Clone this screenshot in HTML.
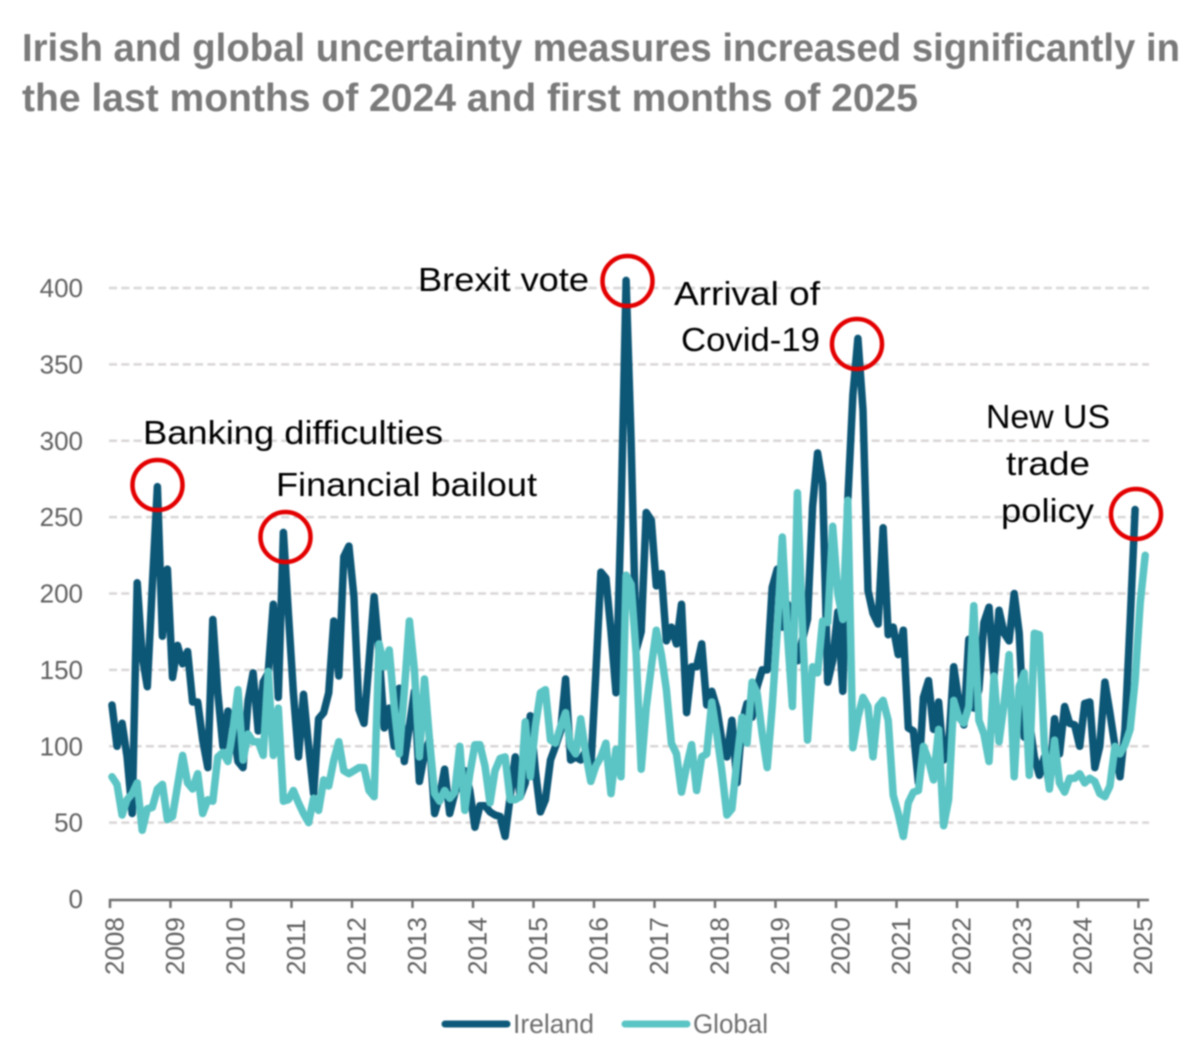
<!DOCTYPE html>
<html lang="en">
<head>
<meta charset="utf-8">
<title>Irish and global uncertainty measures</title>
<style>
html,body{margin:0;padding:0;background:#fff;}
#chart{display:block;width:1200px;height:1064px;filter:blur(0.7px);font-family:"Liberation Sans",sans-serif;}
.title{font-size:39px;font-weight:bold;fill:#7a7a7a;}
.note{font-size:33px;fill:#000;}
.tick{font-size:26px;fill:#606060;}
.legend{font-size:27px;fill:#6e6e6e;}
</style>
</head>
<body>
<svg id="chart" xmlns="http://www.w3.org/2000/svg" width="1200" height="1064" viewBox="0 0 1200 1064">
  <text class="title" x="22" y="61" textLength="1158" lengthAdjust="spacingAndGlyphs">Irish and global uncertainty measures increased significantly in</text>
  <text class="title" x="22" y="111" textLength="896" lengthAdjust="spacingAndGlyphs">the last months of 2024 and first months of 2025</text>
  <g id="grid"></g>
  <g id="axes"></g>
  <g id="series"></g>
  <g>
    <text class="note" x="143" y="444" textLength="300" lengthAdjust="spacingAndGlyphs">Banking difficulties</text>
    <text class="note" x="276" y="496" textLength="261" lengthAdjust="spacingAndGlyphs">Financial bailout</text>
    <text class="note" x="418" y="291" textLength="171" lengthAdjust="spacingAndGlyphs">Brexit vote</text>
    <text class="note" x="674" y="305" textLength="146" lengthAdjust="spacingAndGlyphs">Arrival of</text>
    <text class="note" x="681" y="351" textLength="139" lengthAdjust="spacingAndGlyphs">Covid-19</text>
    <text class="note" x="986" y="428" textLength="124" lengthAdjust="spacingAndGlyphs">New US</text>
    <text class="note" x="1006" y="475" textLength="84" lengthAdjust="spacingAndGlyphs">trade</text>
    <text class="note" x="1001" y="522" textLength="93" lengthAdjust="spacingAndGlyphs">policy</text>
    <circle cx="157.5" cy="485" r="25" fill="none" stroke="#e30000" stroke-width="4.5"/>
    <circle cx="285.5" cy="537" r="25" fill="none" stroke="#e30000" stroke-width="4.5"/>
    <circle cx="627.5" cy="281" r="25" fill="none" stroke="#e30000" stroke-width="4.5"/>
    <circle cx="857" cy="344" r="25" fill="none" stroke="#e30000" stroke-width="4.5"/>
    <circle cx="1136" cy="514" r="25" fill="none" stroke="#e30000" stroke-width="4.5"/>
  </g>
  <g>
    <line x1="445" y1="1024" x2="507" y2="1024" stroke="#0f5a7a" stroke-width="7" stroke-linecap="round"/>
    <text class="legend" x="513" y="1033" textLength="81" lengthAdjust="spacingAndGlyphs">Ireland</text>
    <line x1="625" y1="1024" x2="687" y2="1024" stroke="#5bc4c4" stroke-width="7" stroke-linecap="round"/>
    <text class="legend" x="693" y="1033" textLength="75" lengthAdjust="spacingAndGlyphs">Global</text>
  </g>
</svg>
<script>
const yearLabels = ["2008","2009","2010","2011","2012","2013","2014","2015","2016","2017","2018","2019","2020","2021","2022","2023","2024","2025"];
const valueTicks = [0,50,100,150,200,250,300,350,400];
const irelandValues = [
127,100,115,93,56,207,159,139,205,270,172,216,
145,166,154,162,129,129,104,86,183,135,100,123,
113,90,86,130,148,110,142,148,193,132,240,187,
135,93,134,100,69,118,122,135,182,146,224,231,
198,124,115,155,198,161,112,125,100,138,90,113,
136,77,95,104,56,67,85,56,69,78,84,71,
47,61,61,57,55,54,41,67,93,67,76,120,
84,57,65,91,100,110,144,91,93,91,97,86,
147,214,210,175,135,250,405,300,163,175,253,248,
205,213,169,178,167,193,122,152,152,167,127,136,
125,104,93,117,76,115,128,119,139,150,150,204,
216,178,193,156,156,170,183,257,292,272,142,156,
188,136,261,330,367,320,202,187,180,243,173,178,
160,176,112,110,76,132,143,111,129,91,100,152,
130,114,170,125,137,181,191,146,189,174,169,200,
174,106,117,93,81,93,74,118,95,126,115,114,
100,128,129,86,100,142,122,100,80,111,181,255
];
const globalValues = [
80,75,55,65,69,76,45,59,60,72,75,52,
54,74,94,76,72,82,56,65,64,93,96,90,
111,137,91,108,103,103,94,149,94,125,64,65,
71,63,56,50,66,58,78,74,91,103,84,82,
84,86,86,71,67,167,152,163,126,95,136,182,
150,93,144,104,69,64,71,66,70,100,58,82,
101,101,87,63,84,92,93,65,65,67,116,80,
113,135,137,104,102,113,122,100,95,118,95,77,
87,93,102,69,98,80,212,206,160,85,125,152,
176,160,137,102,95,70,87,101,71,93,95,129,
108,84,55,59,91,119,102,142,135,108,86,126,
176,237,174,126,266,178,104,152,148,182,181,244,
200,183,261,99,119,132,126,93,126,130,117,68,
56,41,63,70,71,100,91,78,111,48,65,130,
119,115,126,192,117,108,90,146,103,128,160,80,
139,148,81,174,173,100,72,104,76,70,79,79,
82,76,79,77,69,67,74,100,95,101,111,143,
194,225
];

const SVG_NS = "http://www.w3.org/2000/svg";
function xMonth(i){ return 112 + 5.04 * i; }
function xYear(j){ return 110 + 60.5 * j; }
function yValue(v){ return 899 - 1.5275 * v; }
function make(tag, attrs, parent){
  const el = document.createElementNS(SVG_NS, tag);
  for (const k in attrs) el.setAttribute(k, attrs[k]);
  parent.appendChild(el);
  return el;
}

const gridG = document.getElementById("grid");
const axesG = document.getElementById("axes");
const seriesG = document.getElementById("series");

valueTicks.forEach(function(v){
  if (v > 0) {
    const g = make("line", {x1:109, x2:1149, y1:yValue(v), y2:yValue(v), stroke:"#d9d6d6", "stroke-width":2.5, "stroke-dasharray":"8 4.3"}, gridG);
    
    
  }
  const t = make("text", {class:"tick", x:83, y:yValue(v) + 9, "text-anchor":"end"}, axesG);
  t.textContent = v;
  
  
});

const axisLine = make("line", {x1:109, x2:1149, y1:900, y2:900, stroke:"#707070", "stroke-width":2.5}, axesG);



yearLabels.forEach(function(label, j){
  const x = xYear(j);
  const tk = make("line", {x1:x, x2:x, y1:899, y2:908, stroke:"#707070", "stroke-width":2.5}, axesG);
  
  
  const t = make("text", {class:"tick", transform:"translate(" + (x + 13.5) + ",975) rotate(-90)"}, axesG);
  t.textContent = label;
  
  
});

function linePoints(values){
  return values.map(function(v, i){ return xMonth(i).toFixed(1) + "," + yValue(v).toFixed(1); }).join(" ");
}
const irelandLine = make("polyline", {points:linePoints(irelandValues), fill:"none", stroke:"#0c5676", "stroke-width":7.5, "stroke-linejoin":"round", "stroke-linecap":"round"}, seriesG);


const globalLine = make("polyline", {points:linePoints(globalValues), fill:"none", stroke:"#5bc4c4", "stroke-width":7.5, "stroke-linejoin":"round", "stroke-linecap":"round"}, seriesG);


</script>
</body>
</html>
